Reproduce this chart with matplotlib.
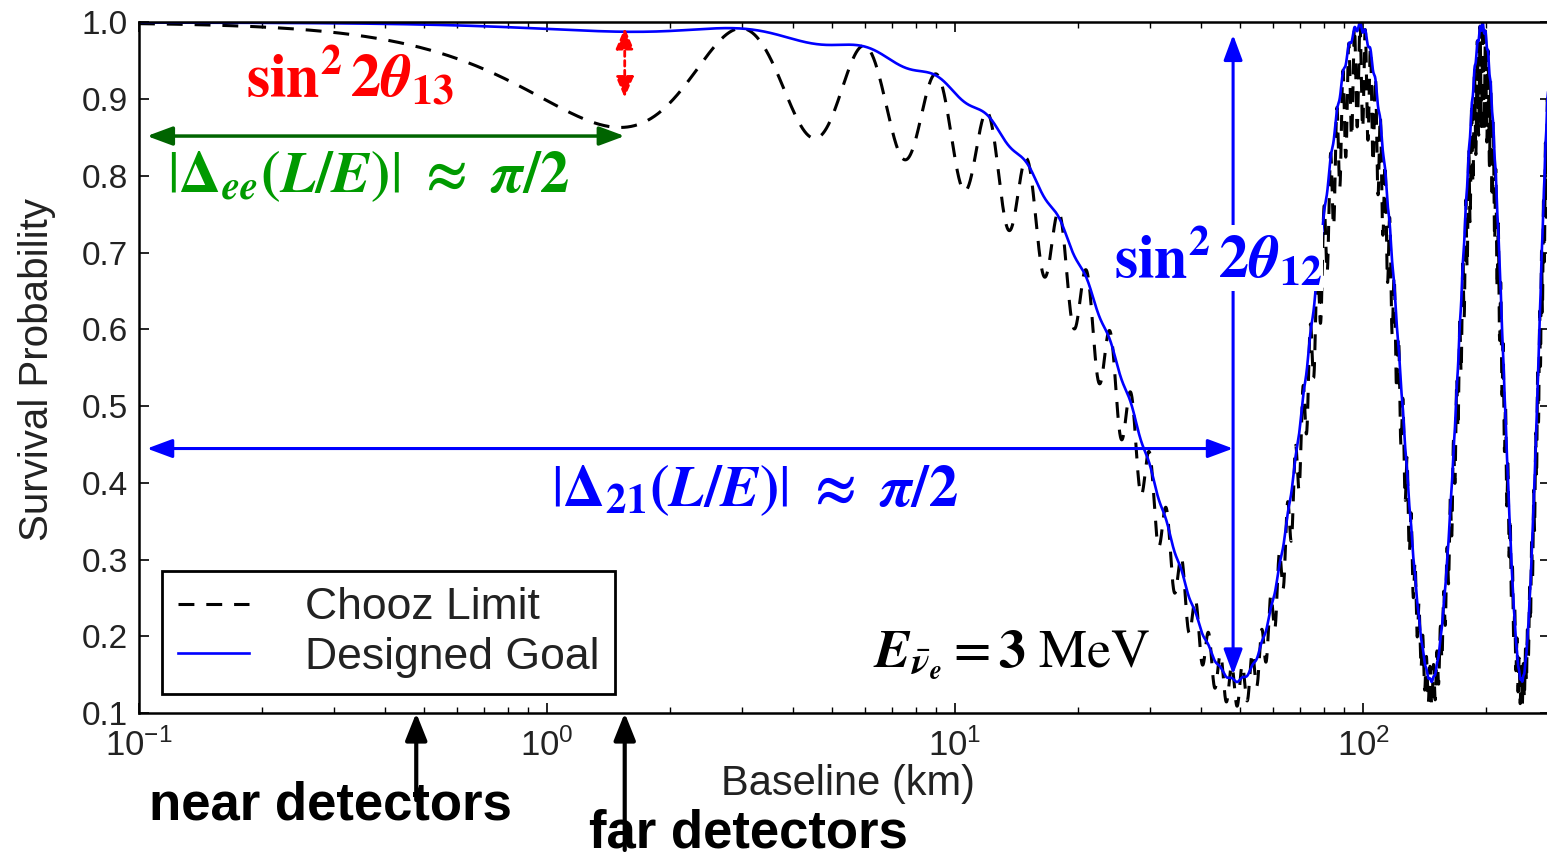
import numpy as np
import matplotlib
matplotlib.use("Agg")
import matplotlib.pyplot as plt
from matplotlib.ticker import FixedLocator, FuncFormatter, LogLocator, NullFormatter

# ---------------------------------------------------------------------------
# Reactor antineutrino survival probability inputs
# ---------------------------------------------------------------------------
energy_mev = 3.0
baseline_limits_km = [0.1, 287.0]
curve_labels = ["Chooz Limit", "Designed Goal"]
curve_colors = ["black", "blue"]
sin2_2theta13 = [0.135, 0.01]      # Chooz limit vs. design goal
sin2_2theta12 = 0.857
dm2_21_ev2 = 7.6e-5
dm2_31_ev2 = 2.5e-3

y_ticks = [0.1, 0.2, 0.3, 0.4, 0.5, 0.6, 0.7, 0.8, 0.9, 1.0]
x_decades = [-1, 0, 1, 2]

detector_baselines_km = [0.478, 1.55]
detector_labels = ["near detectors", "far detectors"]

theta13_marker_km = 1.55
theta13_span = [0.993, 0.902]
solar_marker_km = 48.0
solar_span = [0.984, 0.150]
ee_arrow_level = 0.852
solar_arrow_level = 0.4447
arrow_start_km = 0.1046

W, H = 1547, 857

plt.rcParams["font.family"] = ["Liberation Sans", "DejaVu Sans"]
plt.rcParams["mathtext.fontset"] = "custom"
plt.rcParams["mathtext.rm"] = "Liberation Sans"
plt.rcParams["mathtext.it"] = "Liberation Sans:italic"
plt.rcParams["mathtext.bf"] = "Liberation Sans:bold"


def survival_probability(L_km, s2_13):
    """Three-flavour electron antineutrino survival probability."""
    cos2_2t13 = np.sqrt(1.0 - s2_13)
    c4_13 = ((1.0 + cos2_2t13) / 2.0) ** 2
    s2_12 = (1.0 - np.sqrt(1.0 - sin2_2theta12)) / 2.0
    c2_12 = 1.0 - s2_12
    k = 1.267 * 1000.0 * L_km / energy_mev
    d21 = k * dm2_21_ev2
    d31 = k * dm2_31_ev2
    d32 = k * (dm2_31_ev2 - dm2_21_ev2)
    return (1.0
            - c4_13 * sin2_2theta12 * np.sin(d21) ** 2
            - s2_13 * (c2_12 * np.sin(d31) ** 2 + s2_12 * np.sin(d32) ** 2))


L = np.unique(np.concatenate([
    np.geomspace(baseline_limits_km[0], baseline_limits_km[1], 6000),
    np.linspace(baseline_limits_km[0], baseline_limits_km[1], 60000),
]))

fig = plt.figure(figsize=(W / 100, H / 100), dpi=100)
ax = fig.add_axes([139 / W, (H - 713) / H, (1550 - 139) / W, (713 - 22.5) / H])

# curves
chooz, = ax.plot(L, survival_probability(L, sin2_2theta13[0]), color=curve_colors[0],
                 lw=2.2, label=curve_labels[0])
chooz.set_dashes((5.2, 3.9))
ax.plot(L, survival_probability(L, sin2_2theta13[1]), color=curve_colors[1],
        lw=1.9, label=curve_labels[1])

# axes
ax.set_xscale("log")
ax.set_xlim(*baseline_limits_km)
ax.set_ylim(y_ticks[0], y_ticks[-1])
ax.xaxis.set_major_locator(FixedLocator([10.0 ** d for d in x_decades]))
ax.xaxis.set_major_formatter(FuncFormatter(
    lambda v, p: r"$\mathregular{10^{%d}}$" % int(round(np.log10(v)))))
ax.xaxis.set_minor_locator(LogLocator(base=10, subs=np.arange(2, 10), numticks=20))
ax.xaxis.set_minor_formatter(NullFormatter())
ax.yaxis.set_major_locator(FixedLocator(y_ticks))
ax.yaxis.set_major_formatter(FuncFormatter(lambda v, p: "%.1f" % v))

for s in ax.spines.values():
    s.set_linewidth(1.8)
ax.tick_params(which="both", direction="in", top=True, right=True, colors="black")
ax.tick_params(which="major", length=7, width=1.2)
ax.tick_params(which="minor", length=4, width=1.0)
ax.tick_params(axis="y", labelsize=24, pad=8)
ax.tick_params(axis="x", labelsize=25, pad=11)
for t in ax.get_yticklabels() + ax.get_xticklabels():
    t.set_color("#222222")

ax.set_xlabel("Baseline (km)", fontsize=30, color="#222222")
ax.xaxis.set_label_coords((848 - 139) / 1411, (713 - 764) / 690.5)
ax.set_ylabel("Survival Probability", fontsize=29, color="#222222")
ax.yaxis.set_label_coords((56 - 139) / 1411, (713 - 370) / 690.5)

leg = ax.legend(loc="lower left", bbox_to_anchor=(23 / 1411, 19 / 690.5),
                borderaxespad=0, fontsize=32, frameon=True, fancybox=False,
                framealpha=1, edgecolor="black", handlelength=1.6,
                handletextpad=1.25, borderpad=0.36, labelspacing=0.2)
leg.get_frame().set_linewidth(2.0)
for t in leg.get_texts():
    t.set_color("#222222")

# interval arrows
def double_arrow(p0, p1, color, ls="-", lw=2.5, scale=22, hl=0.7, hw=0.26):
    ax.annotate("", xy=p1, xytext=p0, xycoords="data", textcoords="data",
                annotation_clip=False, zorder=6,
                arrowprops=dict(arrowstyle="<|-|>,head_length=%g,head_width=%g" % (hl, hw),
                                color=color, lw=lw, ls=ls, mutation_scale=scale,
                                shrinkA=0, shrinkB=0))

double_arrow((arrow_start_km, ee_arrow_level), (theta13_marker_km, ee_arrow_level), "#006400")
double_arrow((theta13_marker_km, theta13_span[0]), (theta13_marker_km, theta13_span[1]),
             "red", ls=(0, (2.0, 1.5)), lw=2.0, scale=17, hl=0.75, hw=0.32)
double_arrow((arrow_start_km, solar_arrow_level), (solar_marker_km, solar_arrow_level), "blue",
             lw=2.2)
double_arrow((solar_marker_km, solar_span[0]), (solar_marker_km, solar_span[1]), "blue",
             lw=2.2)

def ftext(x, y, s, **kw):
    return fig.text(x / W, 1 - y / H, s, ha="center", va="center", **kw)

MF = "stix"
ftext(350, 77, r"$\mathbf{sin}^{\mathbf{2}}\,\mathbf{2}\boldsymbol{\theta}_{\mathbf{13}}$",
      color="red", fontsize=43, math_fontfamily=MF, zorder=7)
ftext(368, 176,
      r"$|\mathbf{\Delta}_{\boldsymbol{ee}}\mathbf{(}\boldsymbol{L/E}\mathbf{)}|\ \mathbf{\approx}\ \boldsymbol{\pi}\mathbf{/2}$",
      color="#009a00", fontsize=42, math_fontfamily=MF, zorder=7)
ftext(755, 490,
      r"$|\mathbf{\Delta}_{\mathbf{21}}\mathbf{(}\boldsymbol{L/E}\mathbf{)}|\ \mathbf{\approx}\ \boldsymbol{\pi}\mathbf{/2}$",
      color="blue", fontsize=42, math_fontfamily=MF, zorder=7)
ftext(1218, 258, r"$\mathbf{sin}^{\mathbf{2}}\,\mathbf{2}\boldsymbol{\theta}_{\mathbf{12}}$",
      color="blue", fontsize=43, math_fontfamily=MF, zorder=8,
      bbox=dict(facecolor="white", edgecolor="none", pad=1))
ftext(1012, 655,
      r"$\boldsymbol{E}_{\bar{\boldsymbol{\nu}}_{\boldsymbol{e}}} = \mathbf{3}\ \mathrm{MeV}$",
      color="black", fontsize=39, math_fontfamily=MF, zorder=7)

# detector locations
tails_px = [800, 850]
for xkm, ytail in zip(detector_baselines_km, tails_px):
    ax.annotate("", xy=(xkm, 0), xycoords=("data", "axes fraction"),
                xytext=(xkm, H - ytail), textcoords=("data", "figure pixels"),
                annotation_clip=False, zorder=6,
                arrowprops=dict(arrowstyle="-|>,head_length=0.75,head_width=0.3",
                                color="black", lw=3, mutation_scale=22,
                                shrinkA=0, shrinkB=0))
ftext(330, 805, detector_labels[0], fontsize=38, fontweight="bold", color="black")
ftext(748, 833, detector_labels[1], fontsize=38, fontweight="bold", color="black")

fig.savefig("out.png", dpi=100, facecolor="white")
